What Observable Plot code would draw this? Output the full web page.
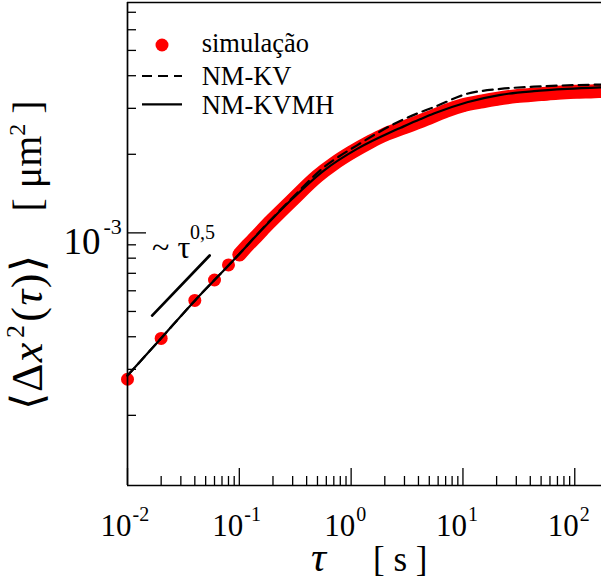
<!DOCTYPE html>
<html>
<head>
<meta charset="utf-8">
<script src="https://cdn.jsdelivr.net/npm/d3@7"></script>
<script src="https://cdn.jsdelivr.net/npm/@observablehq/plot@0.6"></script>
<style>
  html, body { margin: 0; padding: 0; background: #fff; }
  svg, svg text { font-family: "Liberation Serif", "Times New Roman", serif !important; }
</style>
</head>
<body>
<div id="chart"></div>
<script>
// Mean square displacement <Δx²(τ)> versus lag time τ (log-log)

// simulation points
const simTau = [0.01, 0.02, 0.04, 0.06, 0.08, 0.10, 0.12, 0.14, 0.16, 0.18, 0.2, 0.3, 0.5, 0.7, 1, 1.5, 2, 3, 5, 7, 10, 15, 20, 30, 50, 70, 100, 150, 175];
const simMsd = [2.75e-4, 3.94e-4, 5.51e-4, 6.60e-4, 7.54e-4, 8.26e-4, 9.0e-4, 9.63e-4, 1.024e-3, 1.08e-3, 1.13e-3, 1.34e-3, 1.65e-3, 1.84e-3, 2.03e-3, 2.24e-3, 2.38e-3, 2.54e-3, 2.76e-3, 2.93e-3, 3.08e-3, 3.19e-3, 3.26e-3, 3.34e-3, 3.40e-3, 3.44e-3, 3.47e-3, 3.49e-3, 3.50e-3];

// NM-KV model
const kvTau = [0.01, 0.02, 0.04, 0.1, 0.155, 0.287, 0.57, 1.12, 2.77, 4.18, 5.49, 10.9, 21.7, 43.1, 175];
const kvMsd = [2.84e-4, 3.95e-4, 5.5e-4, 8.3e-4, 1.02e-3, 1.34e-3, 1.783e-3, 2.16e-3, 2.69e-3, 2.90e-3, 3.03e-3, 3.41e-3, 3.56e-3, 3.63e-3, 3.70e-3];

// NM-KVMH model
const mhTau = [0.01, 0.02, 0.04, 0.06, 0.1, 0.155, 0.287, 0.57, 1.13, 2.25, 2.77, 4.18, 5.49, 10.9, 21.7, 43.1, 85.6, 175];
const mhMsd = [2.84e-4, 3.95e-4, 5.5e-4, 6.6e-4, 8.3e-4, 1.016e-3, 1.33e-3, 1.733e-3, 2.098e-3, 2.429e-3, 2.527e-3, 2.729e-3, 2.864e-3, 3.165e-3, 3.38e-3, 3.49e-3, 3.56e-3, 3.61e-3];

// τ^0.5 guide segment
const guideTau = [0.0166, 0.0543];
const guideMsd = [4.82e-4, 8.19e-4];

// axes
const xDomain = [0.01, 173.4];
const yDomain = [1.077e-4, 7.63e-3];
const xMajor = [0.01, 0.1, 1, 10, 100];
const xMinor = [2, 3, 4, 5, 6, 7, 8, 9].flatMap(m => [0.01, 0.1, 1, 10].map(d => m * d));
const yMajor = [1e-3];
const yMinor = [2e-4, 3e-4, 4e-4, 5e-4, 6e-4, 7e-4, 8e-4, 9e-4, 2e-3, 3e-3, 4e-3, 5e-3, 6e-3, 7e-3];

const W = 601, H = 585;
const mL = 127, mR = 0, mT = 2, mB = 100;
const innerW = W - mL - mR, innerH = H - mT - mB;
const serif = "Liberation Serif";

const sim = simTau.map((t, i) => ({t, v: simMsd[i]}));
const kv = kvTau.map((t, i) => ({t, v: kvMsd[i]}));
const mh = mhTau.map((t, i) => ({t, v: mhMsd[i]}));
const guide = guideTau.map((t, i) => ({t, v: guideMsd[i]}));
const denseSim = sim.filter(d => d.t >= 0.1);

const plot = Plot.plot({
  width: W, height: H,
  marginLeft: mL, marginRight: mR, marginTop: mT, marginBottom: mB,
  x: {type: "log", domain: xDomain, axis: null},
  y: {type: "log", domain: yDomain, axis: null},
  style: {color: "#000", background: "#fff"},
  marks: [
    // simulation: continuous band plus individual points
    Plot.line(denseSim, {x: "t", y: "v", stroke: "#ff0000", strokeWidth: 14, curve: "monotone-x", strokeLinecap: "round"}),
    Plot.dot(sim, {x: "t", y: "v", r: 6.5, fill: "#ff0000", stroke: "none"}),
    // models
    Plot.line(kv, {x: "t", y: "v", stroke: "#000", strokeWidth: 2.2, strokeDasharray: "10,6", curve: "monotone-x"}),
    Plot.line(mh, {x: "t", y: "v", stroke: "#000", strokeWidth: 2.2, curve: "monotone-x"}),
    // slope guide
    Plot.line(guide, {x: "t", y: "v", stroke: "#000", strokeWidth: 2.7}),
    Plot.text([guide[0]], {x: "t", y: "v", text: () => "~ τ", textAnchor: "start", lineAnchor: "bottom", dx: 0, dy: -58, fontSize: 32, fontFamily: serif}),
    Plot.text([guide[0]], {x: "t", y: "v", text: () => "0,5", textAnchor: "start", lineAnchor: "bottom", dx: 38, dy: -77, fontSize: 20, fontFamily: serif}),
    // ticks (inward)
    Plot.tickX(xMinor, {x: d => d, insetTop: innerH - 9, stroke: "#000", strokeWidth: 1.3}),
    Plot.tickX(xMajor, {x: d => d, insetTop: innerH - 17, stroke: "#000", strokeWidth: 1.3}),
    Plot.tickY(yMinor, {y: d => d, insetRight: innerW - 9, stroke: "#000", strokeWidth: 1.3}),
    Plot.tickY(yMajor, {y: d => d, insetRight: innerW - 19, stroke: "#000", strokeWidth: 1.3}),
    // frame: left, bottom, top
    Plot.ruleX([xDomain[0]], {stroke: "#000", strokeWidth: 1.7}),
    Plot.ruleY([yDomain[0], yDomain[1]], {stroke: "#000", strokeWidth: 1.7}),
    // tick labels
    Plot.text(xMajor, {x: d => d, text: () => "10", frameAnchor: "bottom", textAnchor: "end", lineAnchor: "bottom", dx: 4, dy: 50, fontSize: 31, fontFamily: serif}),
    Plot.text(xMajor, {x: d => d, text: d => String(Math.round(Math.log10(d))), frameAnchor: "bottom", textAnchor: "start", lineAnchor: "bottom", dx: 5, dy: 35, fontSize: 20, fontFamily: serif}),
    Plot.text(yMajor, {y: d => d, text: () => "10", frameAnchor: "left", textAnchor: "end", lineAnchor: "bottom", dx: -27, dy: 21, fontSize: 37, fontFamily: serif}),
    Plot.text(yMajor, {y: d => d, text: d => String(Math.round(Math.log10(d))), frameAnchor: "left", textAnchor: "start", lineAnchor: "bottom", dx: -24, dy: 1, fontSize: 22, fontFamily: serif})
  ]
});

const svg = d3.select(plot).attr("font-family", `"${serif}", serif`);

// axis titles
const xt = svg.append("text").attr("y", 571).attr("fill", "#000").attr("text-anchor", "start");
xt.append("tspan").attr("x", 311).attr("font-style", "italic").attr("font-size", 42).text("τ");
xt.append("tspan").attr("x", 373).attr("font-size", 35).text("[ s ]");

const yt1 = svg.append("text").attr("transform", "translate(42,332) rotate(-90)")
  .attr("text-anchor", "middle").attr("font-size", 44).attr("letter-spacing", 1.5).attr("fill", "#000");
yt1.append("tspan").text("⟨Δ");
yt1.append("tspan").attr("font-style", "italic").text("x");
yt1.append("tspan").attr("font-size", 26).attr("dy", -18).attr("dx", 3).text("2");
yt1.append("tspan").attr("dy", 18).attr("dx", 2).text("(");
yt1.append("tspan").attr("font-style", "italic").text("τ");
yt1.append("tspan").text(")⟩");

const yt2 = svg.append("text").attr("transform", "translate(41,156) rotate(-90)")
  .attr("text-anchor", "middle").attr("font-size", 40).attr("fill", "#000");
yt2.append("tspan").text("[ μm");
yt2.append("tspan").attr("font-size", 24).attr("dy", -16).text("2");
yt2.append("tspan").attr("dy", 16).text(" ]");

// legend
const lg = svg.append("g").attr("font-size", 26.5).attr("fill", "#000").attr("text-anchor", "start");
lg.append("circle").attr("cx", 162).attr("cy", 45).attr("r", 6.5).attr("fill", "#ff0000");
lg.append("text").attr("x", 201.7).attr("y", 51.7).text("simulação");
lg.append("line").attr("x1", 142).attr("x2", 182).attr("y1", 76).attr("y2", 76)
  .attr("stroke", "#000").attr("stroke-width", 2.2).attr("stroke-dasharray", "10,6");
lg.append("text").attr("x", 201.7).attr("y", 85).text("NM-KV");
lg.append("line").attr("x1", 142).attr("x2", 182).attr("y1", 104.3).attr("y2", 104.3)
  .attr("stroke", "#000").attr("stroke-width", 2.2);
lg.append("text").attr("x", 201.7).attr("y", 113.5).text("NM-KVMH");

document.getElementById("chart").appendChild(plot);
</script>
</body>
</html>
